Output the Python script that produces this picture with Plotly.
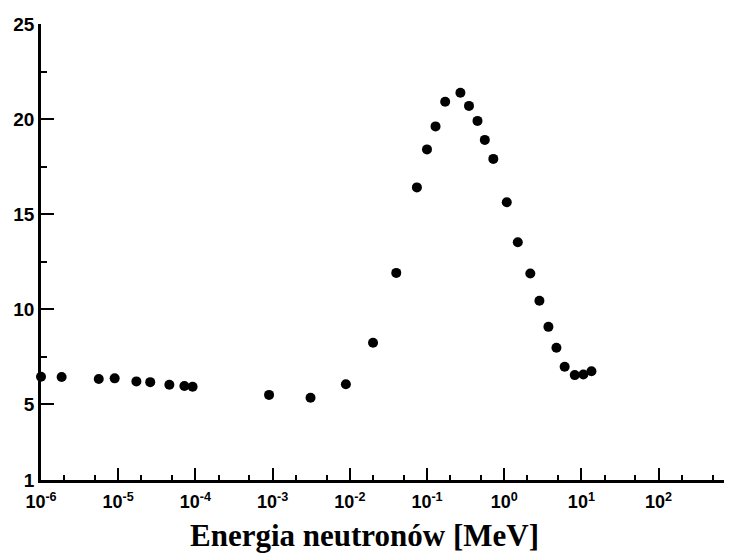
import plotly.graph_objects as go

# Neutron energy [MeV]
energy = [1.0e-6, 1.85e-6, 5.6e-6, 9.0e-6, 1.72e-5, 2.6e-5, 4.6e-5, 7.2e-5, 9.2e-5,
          9.0e-4, 3.1e-3, 8.9e-3, 2.0e-2, 4.0e-2, 7.4e-2, 0.100, 0.129, 0.172,
          0.271, 0.35, 0.451, 0.561, 0.723, 1.08, 1.50, 2.18, 2.86, 3.74, 4.75,
          6.07, 8.2, 10.6, 13.5]
# Quantity on the vertical axis
value = [6.43, 6.42, 6.32, 6.35, 6.19, 6.15, 6.01, 5.95, 5.91,
         5.48, 5.33, 6.04, 8.22, 11.90, 16.40, 18.40, 19.61, 20.91,
         21.38, 20.69, 19.90, 18.90, 17.90, 15.62, 13.51, 11.87, 10.43, 9.06, 7.96,
         6.96, 6.52, 6.55, 6.72]

x_tickvals = [1e-6, 1e-5, 1e-4, 1e-3, 1e-2, 1e-1, 1e0, 1e1, 1e2]
x_ticktext = ["10<sup>-6</sup>", "10<sup>-5</sup>", "10<sup>-4</sup>", "10<sup>-3</sup>",
              "10<sup>-2</sup>", "10<sup>-1</sup>", "10<sup>0</sup>", "10<sup>1</sup>",
              "10<sup>2</sup>"]
x_minor = [m * 10 ** e for e in range(-6, 3) for m in (2, 5)]
y_tickvals = [1, 5, 10, 15, 20, 25]
y_minor = [7.5, 12.5, 17.5, 22.5]
x_title = "Energia neutronów [MeV]"

fig = go.Figure()
fig.add_trace(go.Scatter(
    x=energy, y=value, mode="markers",
    marker=dict(color="black", size=10),
    cliponaxis=False, showlegend=False,
))

tickfont = dict(family="Liberation Sans, Arial, sans-serif", color="black", weight="bold")

# the page body has an 8 px default margin, so the figure is 8 px smaller
fig.update_layout(
    width=724, height=549,
    margin=dict(l=33, r=2, t=16, b=77),
    paper_bgcolor="white", plot_bgcolor="white",
    xaxis=dict(
        type="log", range=[-6, 2.925],
        tickmode="array", tickvals=x_tickvals, ticktext=x_ticktext,
        ticks="inside", ticklen=12, tickwidth=2, tickcolor="black",
        showline=True, linecolor="black", linewidth=2.5,
        showgrid=False, zeroline=False,
        tickfont=dict(size=18, **tickfont),
        ticklabelstandoff=4,
        minor=dict(tickmode="array", tickvals=x_minor, ticks="inside",
                   ticklen=5, tickwidth=2, tickcolor="black", showgrid=False),
    ),
    yaxis=dict(
        range=[1, 25],
        tickmode="array", tickvals=y_tickvals,
        ticks="inside", ticklen=13, tickwidth=2, tickcolor="black",
        showline=True, linecolor="black", linewidth=2.5,
        showgrid=False, zeroline=False,
        tickfont=dict(size=19, **tickfont),
        minor=dict(tickmode="array", tickvals=y_minor, ticks="inside",
                   ticklen=6, tickwidth=2, tickcolor="black", showgrid=False),
    ),
    annotations=[dict(
        text="<b>" + x_title + "</b>",
        xref="paper", yref="paper", x=0.47, y=-0.122,
        xanchor="center", yanchor="middle", showarrow=False,
        font=dict(family="Liberation Serif, Times New Roman, serif", size=31, color="black"),
    )],
)

fig.write_html("out.html")
